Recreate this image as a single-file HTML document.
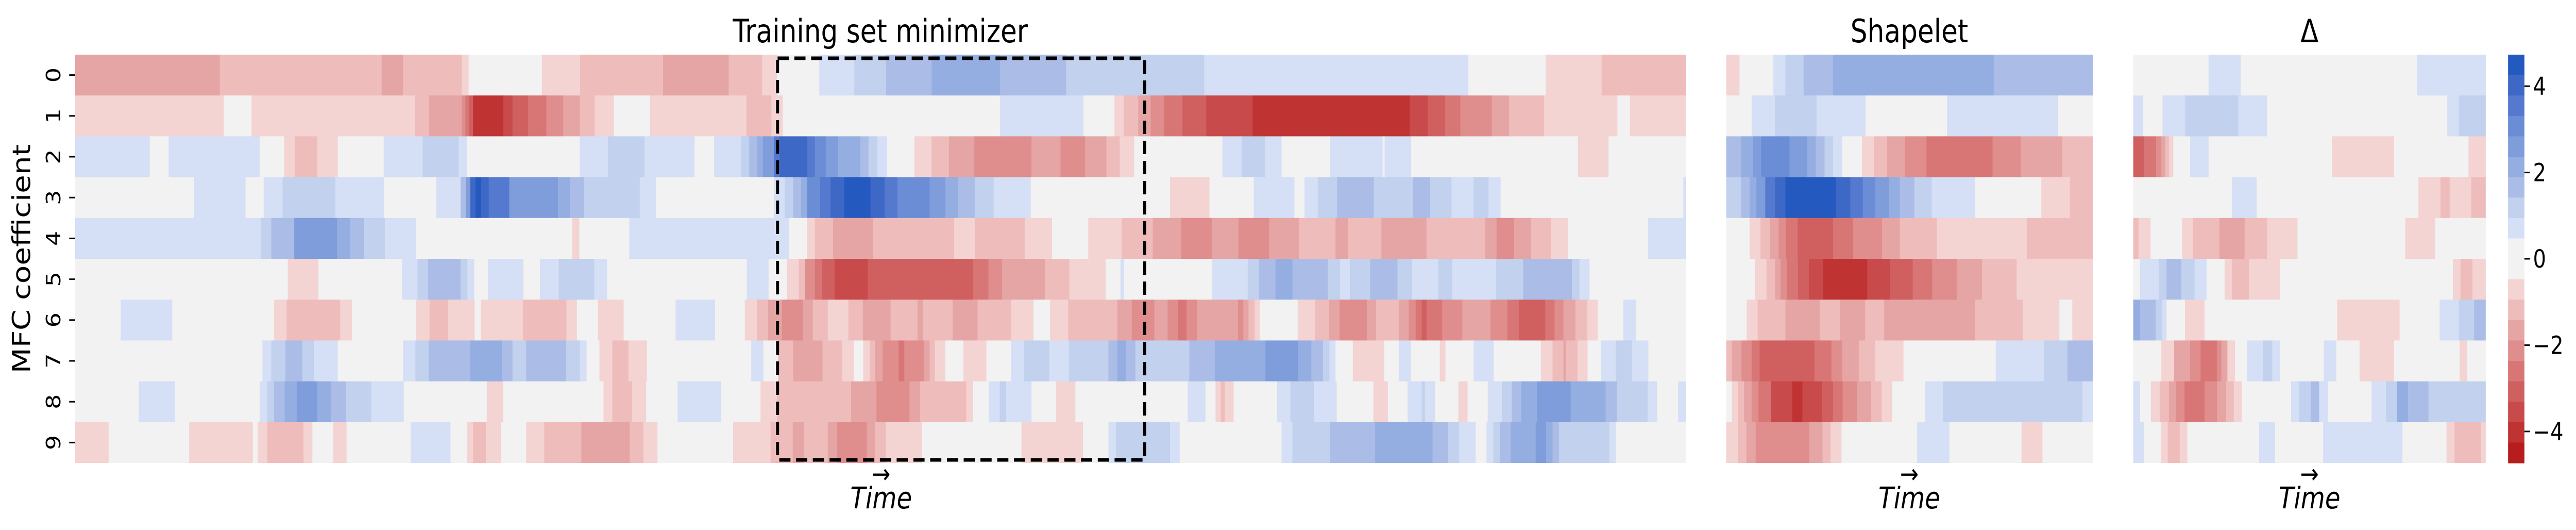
<!DOCTYPE html>
<html><head><meta charset="utf-8"><style>
html,body{margin:0;padding:0;background:#fff;width:100%;height:100%;overflow:hidden;}
svg{display:block;width:100vw;height:100vh;}
text{font-family:"DejaVu Sans","Liberation Sans",sans-serif;fill:#000;}
</style></head><body>
<svg id="fig" viewBox="0 0 5993 1028" preserveAspectRatio="none" xmlns="http://www.w3.org/2000/svg">
<g id="main"></g>
<g id="shp"></g>
<g id="dlt"></g>
<g id="cbar"></g>
<g id="yticks"></g>
<text x="2048" y="82" font-size="62" text-anchor="middle">Training set minimizer</text>
<text x="4442" y="82" font-size="62" text-anchor="middle">Shapelet</text>
<text x="5373" y="82" font-size="62" text-anchor="middle">Δ</text>
<text transform="translate(70,502) rotate(-90)" font-size="58" text-anchor="middle">MFC coefficient</text>
<g><text x="2050" y="937" font-size="52" text-anchor="middle">→</text><text x="2050" y="986" font-size="58" font-style="italic" text-anchor="middle">Time</text></g>
<g><text x="4442" y="937" font-size="52" text-anchor="middle">→</text><text x="4442" y="986" font-size="58" font-style="italic" text-anchor="middle">Time</text></g>
<g><text x="5373" y="937" font-size="52" text-anchor="middle">→</text><text x="5373" y="986" font-size="58" font-style="italic" text-anchor="middle">Time</text></g>
<rect x="1809" y="113" width="854" height="779" fill="none" stroke="#000" stroke-width="7" stroke-dasharray="26 13"/>
</svg>
<script>
const yTickLabels=["0","1","2","3","4","5","6","7","8","9"];
const cbarTicks=[4,2,0,-2,-4];
const vmax=4.73, nBins=20;
const palette=["#2459c0","#3e68c6","#5479cf","#6a8dd5","#7f9ddb","#95aee2","#abbde7","#c1d1ee","#d5dff5","#f2f2f2","#f2f2f2","#f4d3d3","#efbcbc","#e6a5a5","#df8d8d","#d87676","#d06060","#c84a4a","#c03333","#b81d1d"];
const mainSteps=400, shapeletSteps=91, deltaSteps=88;
const mainRows=[
[[-1.6,35.9],[-1.1,76.1],[-1.6,81.4],[-1.1,96.0],[-0.6,97.7],[0,115.9],[-0.6,125.4],[-1.1,146.0],[-1.6,162.3],[-1.1,170.6],[-0.6,174.3],[0,184.8],[0.6,193.5],[1.1,201.4],[1.6,212.7],[2.1,229.7],[1.6,246.1],[1.1,280.4],[0.6,346.0],[0,365.2],[-0.6,379.1],[-1.1,400]],
[[-0.6,36.9],[0,43.8],[-0.6,84.4],[-1.1,87.9],[-1.6,96.0],[-2.1,96.9],[-2.6,97.8],[-3.1,98.8],[-4.1,106.3],[-3.6,108.6],[-3.1,112.5],[-2.6,117.0],[-2.1,121.2],[-1.6,125.3],[-1.1,129.0],[-0.6,133.8],[0,142.7],[-0.6,166.7],[-1.1,172.9],[-0.6,175.7],[0,229.7],[0.6,250.4],[0,258.1],[-0.6,260.4],[-1.1,264.0],[-1.6,267.1],[-2.1,270.4],[-2.6,275.0],[-3.1,280.9],[-3.6,292.4],[-4.1,331.4],[-3.6,335.9],[-3.1,340.2],[-2.6,344.0],[-2.1,351.8],[-1.6,356.1],[-1.1,364.8],[-0.6,383.0],[0,386.1],[-0.6,400]],
[[0.6,18.5],[0,23.2],[0.6,45.8],[0,51.9],[-0.6,54.5],[-1.1,60.1],[-0.6,65.2],[0,76.6],[0.6,86.3],[1.1,95.2],[0.6,97.3],[0,125.3],[0.6,132.3],[1.1,141.4],[0.6,153.8],[0,158.7],[0.6,165.4],[1.1,167.4],[1.6,169.4],[2.1,170.8],[2.6,173.5],[3.6,174.9],[4.1,181.8],[3.6,183.7],[3.1,186.4],[2.6,189.5],[2.1,195.0],[1.6,197.0],[1.1,199.2],[0.6,201.6],[0,208.4],[-0.6,212.7],[-1.1,217.0],[-1.6,223.3],[-2.1,237.5],[-1.6,244.7],[-2.1,250.8],[-1.6,256.1],[-1.1,259.4],[-0.6,263.0],[0,284.9],[0.6,289.7],[1.1,295.5],[0.6,299.6],[0,311.7],[0.6,324.7],[0,325.2],[0.6,331.8],[0,373.2],[-0.6,380.8],[0,400]],
[[0,29.5],[0.6,42.3],[0,46.8],[0.6,51.5],[1.1,64.6],[0.6,76.7],[0,89.7],[0.6,95.7],[1.6,97.0],[2.6,98.1],[4.1,99.4],[4.6,100.8],[4.1,102.7],[3.6,107.8],[2.6,119.9],[2.1,122.9],[1.6,126.3],[1.1,140.2],[0.6,144.2],[0,173.5],[0.6,176.2],[1.1,178.3],[1.6,180.3],[2.1,181.8],[3.1,185.0],[3.6,187.6],[4.1,191.0],[4.6,197.5],[4.1,201.0],[3.6,204.2],[3.1,212.2],[2.6,216.1],[2.1,219.3],[1.6,223.4],[1.1,228.1],[0.6,237.3],[0,271.9],[-0.6,281.7],[0,292.7],[0.6,302.8],[0,305.3],[0.6,308.6],[1.1,313.4],[1.6,322.5],[1.1,332.2],[1.6,336.5],[1.1,341.8],[0.6,347.3],[1.1,351.0],[0.6,354.0],[0,399.4],[0.6,400]],
[[0.6,46.1],[1.1,48.7],[1.6,54.4],[2.6,65.0],[2.1,68.3],[1.6,71.7],[1.1,76.9],[0.6,84.6],[0,123.4],[-0.6,125.2],[0,137.6],[0.6,177.3],[0,181.7],[-0.6,183.7],[-1.1,188.2],[-1.6,198.1],[-1.1,218.3],[-0.6,223.4],[-1.1,235.8],[-0.6,242.6],[0,251.6],[-0.6,259.9],[-1.1,267.6],[-1.6,274.7],[-2.1,282.3],[-1.6,288.9],[-2.1,296.5],[-1.6,303.9],[-1.1,313.0],[-1.6,316.1],[-1.1,324.4],[-1.6,335.6],[-1.1,350.2],[-1.6,353.0],[-2.1,357.3],[-1.6,361.6],[-1.1,366.5],[-0.6,370.8],[0,390.6],[0.6,400]],
[[0,52.8],[-0.6,60.4],[0,81.2],[0.6,85.0],[1.1,87.6],[1.6,95.7],[1.1,97.4],[0.6,99.1],[0,102.5],[0.6,111.3],[0,115.4],[0.6,120.1],[1.1,128.9],[0.6,132.1],[0,166.8],[0.6,172.2],[0,176.8],[-0.6,179.7],[-1.1,181.3],[-2.1,183.7],[-2.6,185.4],[-3.1,188.6],[-3.6,196.8],[-3.1,223.0],[-2.6,226.8],[-2.1,230.2],[-1.6,240.9],[-1.1,246.9],[-0.6,255.9],[0,259.6],[0.6,260.4],[0,282.4],[0.6,291.2],[1.1,294.0],[1.6,298.1],[2.1,302.3],[1.6,311.1],[1.1,314.1],[0.6,316.6],[1.1,321.6],[1.6,328.4],[1.1,332.0],[0.6,338.5],[1.1,342.0],[0.6,352.9],[1.1,359.6],[1.6,371.7],[1.1,373.6],[0.6,376.1],[0,400]],
[[0,11.3],[0.6,24.1],[0,49.4],[-0.6,52.5],[-1.1,65.8],[-0.6,68.7],[0,84.6],[-0.6,88.0],[-1.1,92.6],[-0.6,99.2],[0,100.7],[-0.6,111.2],[-1.1,122.0],[-0.6,124.6],[0,129.8],[-0.6,136.2],[0,149.1],[0.6,158.9],[0,166.3],[-0.6,169.3],[-1.1,172.1],[-1.6,175.5],[-2.1,180.7],[-1.6,183.2],[-1.1,186.9],[-0.6,192.0],[-1.1,195.6],[-1.6,202.5],[-1.1,209.2],[-1.6,210.5],[-1.1,217.9],[-1.6,224.1],[-1.1,232.4],[-0.6,238.0],[0,242.1],[-0.6,246.6],[-1.1,258.8],[-1.6,262.4],[-2.1,268.0],[-1.6,271.3],[-2.1,273.9],[-2.6,276.0],[-2.1,278.6],[-1.6,288.8],[-2.1,290.1],[-1.6,291.4],[-1.1,292.9],[-0.6,294.2],[0,303.6],[-0.6,307.9],[-1.1,311.4],[-1.6,314.0],[-2.1,320.8],[-1.6,323.1],[-1.1,328.7],[-1.6,331.2],[-2.1,332.9],[-2.6,334.4],[-3.1,335.6],[-2.6,339.5],[-2.1,344.5],[-1.6,351.5],[-2.1,355.7],[-2.6,358.6],[-3.1,365.1],[-2.6,367.4],[-2.1,369.6],[-1.6,372.6],[-1.1,375.5],[-0.6,378.1],[0,384.5],[0.6,387.6],[0,400]],
[[0,46.5],[0.6,48.7],[1.1,52.2],[1.6,56.4],[1.1,59.3],[0.6,65.2],[0,81.4],[0.6,84.5],[1.1,87.8],[1.6,98.1],[2.1,106.0],[1.6,108.6],[1.1,112.0],[1.6,121.9],[1.1,125.3],[0.6,127.0],[0,130.2],[-0.6,133.4],[-1.1,137.4],[-0.6,142.0],[0,167.9],[0.6,170.9],[0,174.6],[-1.1,178.3],[-1.6,185.6],[-1.1,190.5],[-0.6,193.4],[0,195.7],[-0.6,197.3],[-1.1,198.6],[-1.6,200.5],[-2.1,204.5],[-2.6,205.9],[-2.1,210.8],[-1.6,212.2],[-1.1,213.5],[-0.6,216.1],[0,220.6],[-0.6,226.3],[0,232.4],[0.6,235.6],[1.1,241.9],[0.6,246.8],[1.1,256.6],[1.6,258.8],[2.1,260.9],[1.6,263.3],[1.1,276.7],[1.6,283.0],[2.1,295.6],[2.6,303.7],[2.1,307.0],[1.6,309.9],[1.1,311.5],[0.6,313.0],[0,317.3],[-0.6,325.1],[0,328.7],[0.6,331.7],[0,338.9],[-0.6,340.3],[0,347.3],[0.6,352.3],[0,364.0],[-0.6,366.9],[-1.1,369.6],[-1.6,370.2],[-1.1,373.1],[-0.6,375.6],[0,378.9],[0.6,382.6],[1.1,386.6],[0.6,390.7],[0,400]],
[[0,15.8],[0.6,24.7],[0,45.8],[0.6,47.7],[1.1,49.4],[1.6,52.0],[2.1,55.0],[2.6,60.1],[2.1,63.5],[1.6,67.2],[1.1,73.5],[0.6,81.6],[0,102.2],[-0.6,106.3],[0,131.2],[-0.6,133.4],[-1.1,138.3],[-0.6,141.8],[0,149.6],[0.6,160.4],[0,170.2],[-0.6,174.3],[-1.1,192.7],[-1.6,199.0],[-2.1,207.2],[-1.6,209.8],[-1.1,221.3],[-0.6,223.0],[0,226.9],[0.6,229.6],[1.1,231.2],[0.6,237.5],[0,243.6],[-0.6,248.4],[0,276.3],[0.6,280.7],[0,283.2],[-0.6,284.5],[-1.1,285.5],[-0.6,287.7],[0,298.5],[0.6,301.8],[1.1,307.6],[0.6,313.3],[0,322.4],[-0.6,326.0],[0,330.9],[0.6,334.4],[1.1,335.2],[0.6,337.7],[0,343.5],[-0.6,345.8],[0,350.8],[0.6,354.3],[1.1,356.8],[1.6,359.1],[2.1,363.0],[2.6,371.4],[2.1,380.1],[1.6,382.9],[1.1,390.5],[0.6,392.9],[0,398.1],[0.6,400]],
[[-0.6,8.3],[0,28.3],[-0.6,44.1],[0,45.3],[-0.6,47.7],[-1.1,56.7],[-0.6,58.9],[0,64.1],[-0.6,67.4],[0,83.3],[0.6,93.2],[0,97.3],[-0.6,98.8],[-1.1,102.0],[-0.6,105.7],[0,112.0],[-0.6,116.5],[-1.1,125.7],[-1.6,137.7],[-1.1,141.1],[-0.6,144.6],[0,163.4],[-0.6,172.7],[-1.1,178.2],[-1.6,181.0],[-1.1,186.9],[-1.6,189.2],[-2.1,196.6],[-1.6,198.6],[-1.1,201.3],[-0.6,210.3],[0,235.0],[-0.6,250.3],[0,256.6],[0.6,258.5],[1.1,271.9],[0.6,274.3],[0,299.6],[0.6,302.3],[1.1,311.7],[1.6,322.8],[2.1,337.1],[1.6,341.0],[1.1,343.7],[0.6,347.8],[0,350.5],[0.6,352.2],[1.1,353.8],[1.6,356.5],[2.1,362.7],[2.6,365.3],[2.1,366.9],[1.6,368.5],[1.1,381.0],[0.6,382.6],[0,400]]
];
const shapeletRows=[
[[-0.6,3.3],[0,11.7],[0.6,14.7],[1.1,19.2],[1.6,26.5],[2.1,66.4],[1.6,91]],
[[0,6.3],[0.6,12.1],[1.1,22.4],[0.6,34.6],[0,54.8],[0.6,82.3],[0,91]],
[[1.6,3.7],[2.1,6.6],[2.6,8.7],[3.1,15.7],[2.6,20.1],[2.1,22.2],[1.6,24.4],[1.1,26.5],[0.6,28.8],[0,33.7],[-0.6,36.7],[-1.1,39.9],[-1.6,44.3],[-2.1,49.7],[-2.6,66.1],[-2.1,73.1],[-1.6,83.4],[-1.1,91]],
[[1.1,3.7],[1.6,5.8],[2.1,7.5],[2.6,9.7],[3.6,12.1],[4.1,14.7],[4.6,27.2],[4.1,30.8],[3.6,33.9],[3.1,37.0],[2.6,40.4],[2.1,43.1],[1.6,46.7],[1.1,51.0],[0.6,61.8],[0,78.2],[-0.6,85.3],[-1.1,91]],
[[0,5.8],[-0.6,8.5],[-1.1,10.8],[-1.6,13.0],[-2.1,14.8],[-2.6,17.7],[-3.1,26.5],[-2.6,31.5],[-2.1,38.7],[-1.6,43.1],[-1.1,52.3],[-0.6,74.6],[-1.1,91]],
[[0,7.1],[-0.6,10.0],[-1.1,12.1],[-1.6,13.5],[-2.1,15.1],[-2.6,17.8],[-3.1,20.5],[-3.6,24.1],[-4.1,35.0],[-3.6,40.6],[-3.1,46.3],[-2.6,51.1],[-2.1,57.2],[-1.6,63.5],[-1.1,72.1],[-0.6,91]],
[[0,5.1],[-0.6,7.8],[-1.1,14.7],[-1.6,23.2],[-1.1,28.2],[-1.6,34.5],[-1.1,39.2],[-1.6,61.8],[-1.1,73.6],[-0.6,82.7],[0,85.9],[-0.6,91]],
[[-1.1,1.4],[-1.6,3.8],[-2.1,6.3],[-2.6,8.3],[-3.1,21.9],[-2.6,26.1],[-2.1,28.8],[-1.6,32.9],[-1.1,37.0],[-0.6,44.0],[0,66.9],[0.6,78.9],[1.1,84.7],[1.6,91]],
[[0,1.4],[-0.6,3.0],[-1.1,4.4],[-1.6,6.3],[-2.1,8.0],[-2.6,11.1],[-3.6,16.4],[-4.1,18.9],[-3.6,23.8],[-3.1,26.5],[-2.6,28.9],[-2.1,32.5],[-1.6,36.0],[-1.1,38.6],[-0.6,41.2],[0,49.3],[0.6,53.8],[1.1,88.4],[0.6,91]],
[[-0.6,3.0],[-1.1,5.0],[-1.6,7.3],[-2.1,20.6],[-1.6,23.9],[-1.1,25.9],[-0.6,28.6],[0,47.4],[0.6,55.4],[0,73.3],[-0.6,78.5],[0,91]]
];
const deltaRows=[
[[0,18.8],[0.6,26.8],[0,70.8],[0.6,88]],
[[0.6,2.4],[0,7.3],[0.6,13.0],[1.1,26.2],[0.6,33.4],[0,78.4],[0.6,81.3],[1.1,88]],
[[-3.1,2.7],[-2.6,5.7],[-2.1,7.0],[-1.6,8.0],[-1.1,8.9],[-0.6,10.0],[0,14.2],[0.6,18.8],[0,49.6],[-0.6,65.1],[0,83.7],[-0.6,88]],
[[0,24.6],[0.6,30.8],[0,71.2],[-0.6,76.7],[-1.1,79.0],[-0.6,84.4],[-1.1,88]],
[[-1.1,1.3],[-0.6,4.3],[0,12.2],[-0.6,14.9],[-1.1,21.5],[-1.6,27.8],[-1.1,33.4],[-0.6,41.0],[0,67.9],[-0.6,75.4],[0,88]],
[[0,1.7],[0.6,6.4],[1.1,8.3],[1.6,12.0],[1.1,15.3],[0.6,18.3],[0,22.8],[-0.6,24.6],[-1.1,28.9],[-0.6,36.7],[0,79.8],[-0.6,81.7],[-1.1,84.7],[-0.6,88]],
[[2.1,1.7],[1.6,5.6],[1.1,7.2],[0.6,8.3],[0,12.9],[-0.6,17.8],[0,50.9],[-0.6,66.5],[0,76.5],[0.6,81.3],[1.1,85.1],[1.6,88]],
[[0,7.0],[-0.6,10.2],[-1.6,14.2],[-2.1,16.8],[-2.6,20.9],[-2.1,22.0],[-1.6,23.5],[-0.6,25.4],[0,28.4],[0.6,32.4],[1.1,34.7],[0.6,36.7],[0,47.6],[0.6,50.7],[0,56.5],[-0.6,65.1],[0,81.5],[-0.6,83.4],[0,88]],
[[0.6,1.7],[0,4.4],[-0.6,6.6],[-1.1,8.9],[-1.6,10.6],[-2.1,12.8],[-2.6,17.8],[-2.1,20.9],[-1.6,23.2],[-1.1,25.1],[-0.6,27.1],[0,39.4],[0.6,41.4],[1.1,44.3],[1.6,46.4],[0.6,48.6],[0,59.5],[0.6,63.1],[1.1,65.9],[2.1,68.6],[1.6,73.7],[1.1,88]],
[[0.6,2.7],[0,6.9],[-0.6,8.6],[-1.1,11.6],[-0.6,13.5],[0,31.4],[0.6,35.4],[0,47.4],[0.6,67.2],[0,78.2],[-0.6,80.2],[-1.1,86.8],[-0.6,88]]
];

const NS="http://www.w3.org/2000/svg";
const top0=106, bottom0=898, rowH=(bottom0-top0)/10;
function color(v){let b=Math.floor((vmax-v)/(2*vmax/nBins));b=Math.max(0,Math.min(nBins-1,b));return palette[b];}
function yScale(r){return top0+r*rowH;}
function drawHeatmap(gid,rows,steps,x0,x1,name){
  const g=document.getElementById(gid);
  const xs=s=>x0+(x1-x0)*s/steps;
  const bg=document.createElementNS(NS,'rect');
  bg.setAttribute('x',x0);bg.setAttribute('y',top0);bg.setAttribute('width',x1-x0);bg.setAttribute('height',bottom0-top0);bg.setAttribute('fill','#f2f2f2');
  
  
  g.appendChild(bg);
  rows.forEach((row,r)=>{
    let s=0;
    row.forEach(([v,e],i)=>{
      const rc=document.createElementNS(NS,'rect');
      const a=xs(s),b=xs(e);
      rc.setAttribute('x',a.toFixed(2));
      rc.setAttribute('y',yScale(r).toFixed(2));
      rc.setAttribute('width',Math.max(0,b-a+(e<steps?0.6:0)).toFixed(2));
      rc.setAttribute('height',(rowH+(r<9?0.6:0)).toFixed(2));
      rc.setAttribute('fill',color(v));
      
      
      g.appendChild(rc);
      s=e;
    });
  });
}
drawHeatmap('main',mainRows,mainSteps,175,3922,'minimizer');
drawHeatmap('shp',shapeletRows,shapeletSteps,4016,4869,'shapelet');
drawHeatmap('dlt',deltaRows,deltaSteps,4963,5783,'delta');

const yt=document.getElementById('yticks');
yTickLabels.forEach((lab,i)=>{
  const cy=yScale(i)+rowH/2;
  const ln=document.createElementNS(NS,'line');
  ln.setAttribute('x1',161);ln.setAttribute('x2',175);ln.setAttribute('y1',cy);ln.setAttribute('y2',cy);
  ln.setAttribute('stroke','#000');ln.setAttribute('stroke-width',3);
  
  
  yt.appendChild(ln);
  const t=document.createElementNS(NS,'text');
  t.setAttribute('transform','translate(140,'+cy+') rotate(-90)');
  t.setAttribute('font-size','46');t.setAttribute('text-anchor','middle');
  t.textContent=lab;
  
  
  yt.appendChild(t);
});

const cb=document.getElementById('cbar');
const cbX0=5835,cbX1=5873;
const cbY=v=>top0+(vmax-v)/(2*vmax)*(bottom0-top0);
palette.forEach((c,i)=>{
  const rc=document.createElementNS(NS,'rect');
  const hb=(bottom0-top0)/nBins;
  rc.setAttribute('x',cbX0);rc.setAttribute('y',(top0+i*hb).toFixed(2));
  rc.setAttribute('width',cbX1-cbX0);rc.setAttribute('height',(hb+0.6).toFixed(2));
  rc.setAttribute('fill',c);
  
  
  cb.appendChild(rc);
});
cbarTicks.forEach(v=>{
  const y=cbY(v);
  const ln=document.createElementNS(NS,'line');
  ln.setAttribute('x1',cbX1);ln.setAttribute('x2',cbX1+13);ln.setAttribute('y1',y);ln.setAttribute('y2',y);
  ln.setAttribute('stroke','#000');ln.setAttribute('stroke-width',3);
  
  
  cb.appendChild(ln);
  const t=document.createElementNS(NS,'text');
  t.setAttribute('x',cbX1+20);t.setAttribute('y',(y+17).toFixed(1));
  t.setAttribute('font-size','48');
  t.textContent=(v<0?'\u2212':'')+Math.abs(v);
  
  
  cb.appendChild(t);
});
</script>
</body></html>
